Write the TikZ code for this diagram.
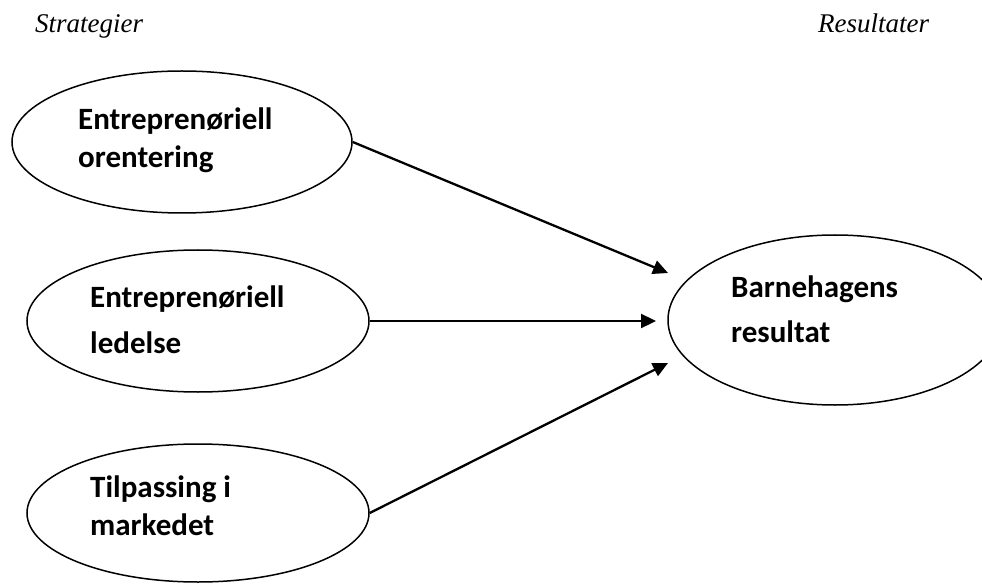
\documentclass[tikz,border=0pt]{standalone}
\usepackage{fontspec}
\setmainfont{Liberation Serif}
\newfontfamily\lblfont{Carlito}
\usetikzlibrary{shapes.geometric,arrows.meta}
\begin{document}
\begin{tikzpicture}[x=1pt,y=-1pt,
  oval/.style={draw,ellipse,line width=1.5pt,inner sep=0pt},
  lbl/.style={anchor=base west,inner sep=0pt,font=\lblfont\bfseries\fontsize{31}{31}\selectfont},
  ttl/.style={anchor=base west,inner sep=0pt,font=\itshape\fontsize{27}{27}\selectfont},
  arr/.style={line width=2.3pt,-{Triangle[length=15pt,width=14pt]}}]
\useasboundingbox (0,0) rectangle (982,585);
\begin{scope}
\clip (0,0) rectangle (982,585);
\node[oval,minimum width=340pt,minimum height=142pt] (e1) at (182,142) {};
\node[oval,minimum width=342pt,minimum height=142pt] (e2) at (198,321) {};
\node[oval,minimum width=342pt,minimum height=138pt] (e3) at (198,513) {};
\node[oval,minimum width=334pt,minimum height=170pt] (r) at (835,320) {};
\end{scope}
\node[ttl] (t1) at (35,33) {Strategier};
\node[ttl] (t2) at (818,33) {Resultater};
\node[lbl] (l1a) at (78,130) {Entreprenøriell};
\node[lbl] (l1b) at (78,168) {orentering};
\node[lbl] (l2a) at (90,307) {Entreprenøriell};
\node[lbl] (l2b) at (90,353) {ledelse};
\node[lbl] (l3a) at (90,497) {Tilpassing i};
\node[lbl] (l3b) at (90,535) {markedet};
\node[lbl] (lra) at (731,298) {Barnehagens};
\node[lbl] (lrb) at (731,342) {resultat};
\coordinate (p1) at (668,273);
\coordinate (p2) at (656,321);
\coordinate (p3) at (668,363);
\draw[arr] (e1.east) -- (p1);
\draw[arr] (e2.east) -- (p2);
\draw[arr] (e3.east) -- (p3);
\end{tikzpicture}
\end{document}
